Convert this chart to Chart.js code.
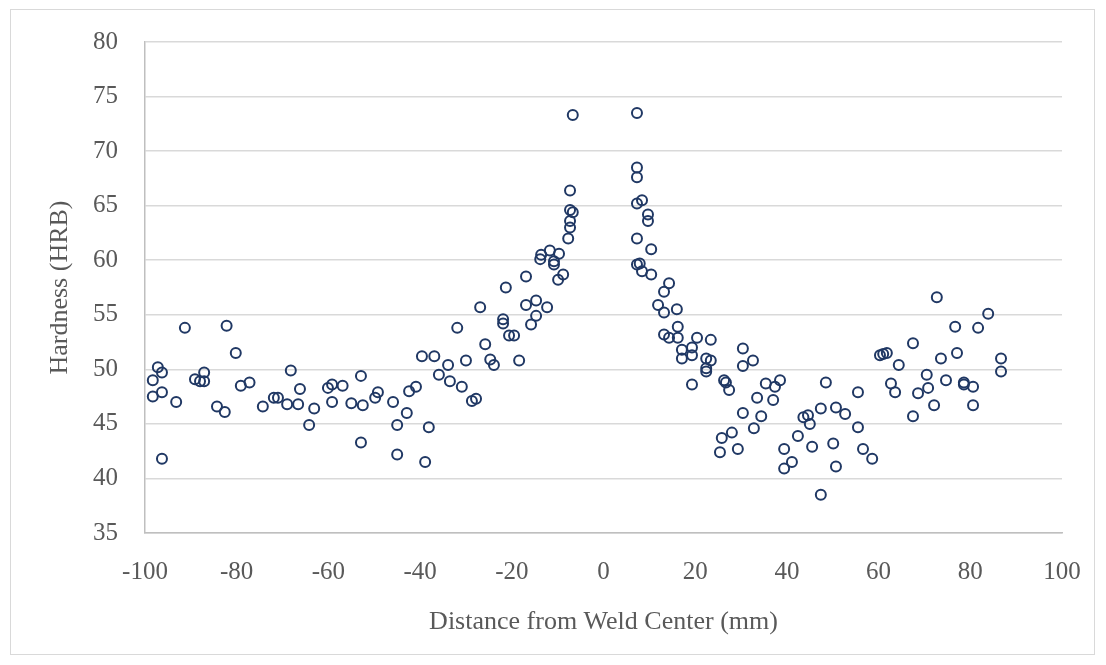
<!DOCTYPE html>
<html>
<head>
<meta charset="utf-8">
<title>Hardness vs distance</title>
<script src="https://cdn.jsdelivr.net/npm/chart.js@4"></script>
<style>
    body { margin: 0; background: #fff; }
    #wrap { position: relative; width: 1106px; height: 665px; }
    #frame { position: absolute; left: 10px; top: 9px; width: 1085px; height: 646px; border: 1px solid #d9d9d9; box-sizing: border-box; pointer-events: none; }
    canvas { position: absolute; left: 0; top: 0; }
</style>
</head>
<body>
<div id="wrap">
    <canvas id="hardnessChart" width="1106" height="665"></canvas>
    <div id="frame"></div>
</div>
<script>
const distanceMm = [
    -98.3, -98.3, -97.2, -96.3, -96.3, -96.3, -93.2, -91.3, -89.1, -88.0,
    -87.1, -87.1, -84.3, -82.6, -82.2, -80.2, -79.1, -77.2, -74.3, -71.9,
    -71.0, -69.0, -68.2, -66.6, -66.2, -64.2, -63.1, -60.1, -59.2, -59.2,
    -56.9, -55.0, -52.9, -52.9, -52.5, -49.8, -49.2, -45.9, -45.0, -45.0,
    -42.9, -42.4, -40.9, -39.6, -38.9, -38.1, -36.9, -35.9, -33.9, -33.5,
    -31.9, -30.9, -30.0, -28.7, -27.8, -26.9, -25.8, -24.7, -23.9, -21.9,
    -21.9, -21.3, -20.6, -19.5, -18.4, -16.9, -16.9, -15.8, -14.7, -14.7,
    -13.6, -13.8, -12.3, -11.7, -9.7, -10.8, -10.8, -8.8, -9.9, -7.7,
    -7.3, -7.3, -7.3, -6.7, -7.3, -6.7,
    7.3, 7.3, 7.3, 7.3, 8.4, 9.7, 9.7, 7.3, 10.4, 7.3,
    7.9, 8.4, 10.4, 14.3, 13.2, 11.9, 13.2, 16.0, 16.2, 13.2,
    14.3, 16.2, 20.4, 23.4, 17.1, 19.3, 17.1, 19.3, 22.4, 23.4,
    22.4, 22.4, 19.3, 30.4, 32.6, 30.4, 26.3, 26.7, 27.4, 35.4,
    38.5, 37.4, 33.5, 37.0, 30.4, 34.4, 32.8, 28.0, 25.8, 25.4,
    29.3, 48.5, 55.5, 43.6, 44.6, 45.0, 47.4, 50.7, 52.7, 42.4,
    39.4, 41.1, 39.4, 45.5, 50.1, 50.7, 55.5, 56.6, 58.6, 47.4,
    60.3, 61.0, 61.8, 72.7, 83.9, 76.7, 81.7, 67.5, 64.4, 73.6,
    77.1, 86.7, 86.7, 70.5, 70.8, 68.6, 74.7, 62.7, 63.6, 78.6,
    78.6, 80.6, 72.1, 80.6, 67.5
];
const hardnessHrb = [
    47.5, 49.0, 50.2, 49.7, 47.9, 41.8, 47.0, 53.8, 49.1, 48.9,
    48.9, 49.7, 46.6, 46.1, 54.0, 51.5, 48.5, 48.8, 46.6, 47.4,
    47.4, 46.8, 49.9, 46.8, 48.2, 44.9, 46.4, 48.3, 48.6, 47.0,
    48.5, 46.9, 49.4, 43.3, 46.7, 47.4, 47.9, 47.0, 44.9, 42.2,
    46.0, 48.0, 48.4, 51.2, 41.5, 44.7, 51.2, 49.5, 50.4, 48.9,
    53.8, 48.4, 50.8, 47.1, 47.3, 55.7, 52.3, 50.9, 50.4, 54.6,
    54.2, 57.5, 53.1, 53.1, 50.8, 58.5, 55.9, 54.1, 56.3, 54.9,
    60.5, 60.1, 55.7, 60.9, 60.6, 59.9, 59.6, 58.7, 58.2, 62.0,
    63.0, 63.6, 64.6, 64.4, 66.4, 73.3,
    73.5, 68.5, 67.6, 65.2, 65.5, 64.2, 63.6, 62.0, 61.0, 59.6,
    59.7, 59.0, 58.7, 57.9, 57.1, 55.9, 55.2, 55.5, 53.9, 53.2,
    52.9, 52.9, 52.9, 52.7, 51.8, 52.0, 51.0, 51.3, 51.0, 50.8,
    50.1, 49.8, 48.6, 51.9, 50.8, 50.3, 49.0, 48.8, 48.1, 48.7,
    49.0, 48.4, 47.4, 47.2, 46.0, 45.7, 44.6, 44.2, 43.7, 42.4,
    42.7, 48.8, 47.9, 45.6, 45.8, 45.0, 46.4, 46.5, 45.9, 43.9,
    42.7, 41.5, 40.9, 42.9, 43.2, 41.1, 44.7, 42.7, 41.8, 38.5,
    51.3, 51.4, 51.5, 56.6, 55.1, 53.9, 53.8, 52.4, 50.4, 51.0,
    51.5, 51.0, 49.8, 49.5, 48.3, 47.8, 49.0, 48.7, 47.9, 48.8,
    48.6, 48.4, 46.7, 46.7, 45.7
];

// bornes des axes
const xTicks = { min: -100, max: 100, step: 20 };
const yTicks = { min: 35, max: 80, step: 5 };

const points = distanceMm.map((d, i) => ({ x: d, y: hardnessHrb[i] }));

const serif = "'Liberation Serif', 'Times New Roman', serif";
const tickColor = '#595959';

const ctx = document.getElementById('hardnessChart').getContext('2d');
new Chart(ctx, {
    type: 'scatter',
    data: {
        datasets: [{
            label: 'Hardness',
            data: points,
            pointStyle: 'circle',
            pointRadius: 5,
            pointBorderWidth: 2,
            pointBorderColor: '#203864',
            pointBackgroundColor: 'rgba(255,255,255,0)'
        }]
    },
    options: {
        responsive: false,
        animation: false,
        layout: {
            padding: { top: 39, right: 44, bottom: 0, left: 0 }
        },
        plugins: {
            legend: { display: false },
            tooltip: { enabled: false }
        },
        scales: {
            x: {
                type: 'linear',
                min: xTicks.min,
                max: xTicks.max,
                ticks: {
                    stepSize: xTicks.step,
                    color: tickColor,
                    padding: 24,
                    maxRotation: 0,
                    font: { family: serif, size: 25 }
                },
                grid: { display: false, drawTicks: false },
                border: { display: true, color: '#bfbfbf', width: 1.5 },
                title: {
                    display: true,
                    text: 'Distance from Weld Center (mm)',
                    color: tickColor,
                    font: { family: serif, size: 26 },
                    padding: { top: 4, bottom: 27 }
                },
                afterFit: function(scale) { scale.height = 132; }
            },
            y: {
                type: 'linear',
                min: yTicks.min,
                max: yTicks.max,
                ticks: {
                    stepSize: yTicks.step,
                    color: tickColor,
                    padding: 27,
                    font: { family: serif, size: 25 }
                },
                grid: { color: '#d9d9d9', lineWidth: 1.5, drawTicks: false },
                border: { display: true, color: '#bfbfbf', width: 1.5 },
                title: {
                    display: true,
                    text: 'Hardness (HRB)',
                    color: tickColor,
                    font: { family: serif, size: 26 },
                    padding: { top: 45, bottom: 4 }
                },
                afterFit: function(scale) { scale.width = 145; }
            }
        }
    }
});
</script>
</body>
</html>
